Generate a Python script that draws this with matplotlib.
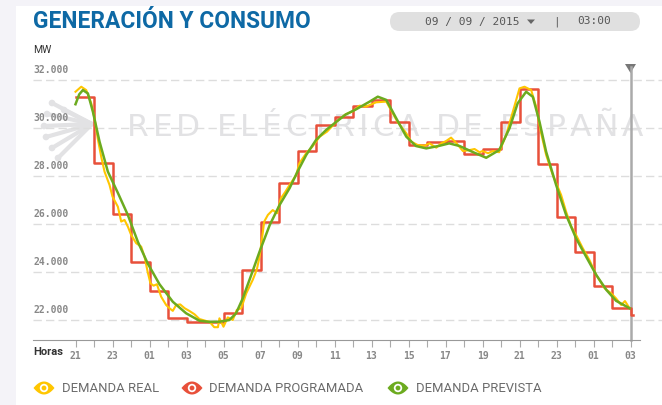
import numpy as np
import matplotlib
matplotlib.use("Agg")
import matplotlib.pyplot as plt
from matplotlib.patches import FancyBboxPatch, Rectangle, Polygon, Circle

# hours since 21:00 (08/09) -> 03:00 (10/09)
hours = list(range(0, 31))
hour_labels = ["%02d" % ((21 + h) % 24) for h in hours]

# demanda programada (hourly steps, MW)
prog_mw = [31300, 28550, 26400, 24400, 23200, 22100, 21900, 21900, 22300, 24100,
           26100, 27700, 29050, 30125, 30450, 30900, 31150, 30250, 29300, 29400,
           29450, 28900, 29125, 30250, 31625, 28500, 26300, 24850, 23400, 22500,
           22200]

# demanda real
real_t = [0.0, 0.31, 0.58, 0.85, 1.03, 1.2, 1.39, 1.57, 1.84, 2.0, 2.29, 2.47, 2.65,
          2.83, 3.01, 3.28, 3.55, 3.73, 3.9, 4.05, 4.22, 4.4, 4.63, 4.9, 5.08, 5.26,
          5.44, 5.66, 5.9, 6.16, 6.43, 6.7, 7.06, 7.24, 7.5, 7.7, 7.78, 8.0, 8.23,
          8.5, 8.72, 8.96, 9.23, 9.58, 9.8, 9.95, 10.1, 10.2, 10.4, 10.66, 10.9, 11.1,
          11.35, 11.57, 11.93, 12.1, 12.47, 12.8, 13.2, 13.6, 14.1, 14.6, 15.0, 15.35,
          15.7, 16.25, 16.8, 17.15, 17.4, 17.88, 18.15, 18.5, 18.86, 19.13, 19.5,
          19.77, 20.04, 20.3, 20.6, 20.94, 21.3, 21.57, 21.84, 22.0, 22.3, 22.56, 22.9,
          23.28, 23.64, 24.0, 24.27, 24.63, 24.9, 25.17, 25.44, 25.8, 26.25, 26.52,
          26.8, 27.06, 27.42, 27.78, 28.15, 28.6, 28.96, 29.22, 29.5, 29.7, 29.95]
real_mw = [31510, 31720, 31580, 31030, 30400, 29570, 28800, 28180, 27625, 27140,
           26720, 26100, 26170, 25890, 25540, 25200, 25060, 24640, 24010, 23530,
           23430, 23490, 22970, 22625, 22490, 22380, 22625, 22650, 22490, 22375,
           22240, 22040, 21960, 21930, 21700, 21700, 22070, 21720, 22110, 22000,
           22420, 22490, 23110, 23670, 24100, 24640, 25500, 26100, 26380, 26580,
           26450, 27070, 27350, 27625, 28040, 28530, 28950, 29220, 29640, 29850,
           30260, 30570, 30700, 30930, 30890, 31070, 31100, 30610, 30260, 29780,
           29430, 29290, 29260, 29360, 29180, 29360, 29460, 29600, 29360, 29040,
           29080, 29125, 28990, 29040, 28950, 29040, 28990, 29710, 30680, 31650,
           31720, 31580, 30890, 29780, 28875, 28040, 27210, 26510, 25890, 25540,
           24990, 24500, 23875, 23320, 23110, 22900, 22625, 22790, 22490]

# demanda prevista
prev_t = [0.0, 0.2, 0.4, 0.67, 0.94, 1.3, 1.75, 2.3, 2.83, 3.37, 3.9, 4.54, 5.26,
          5.98, 6.7, 7.24, 7.78, 8.32, 8.68, 9.04, 9.5, 9.95, 10.5, 11.03, 11.57,
          12.0, 12.47, 13.0, 13.55, 14.1, 14.6, 15.17, 15.9, 16.34, 16.8, 17.34,
          17.88, 18.4, 18.96, 19.68, 20.2, 20.76, 21.5, 22.2, 22.9, 23.46, 23.9,
          24.36, 24.72, 25.08, 25.44, 25.98, 26.52, 27.06, 27.6, 28.15, 28.7, 29.22,
          29.95]
prev_mw = [30990, 31400, 31580, 31440, 30680, 29430, 28180, 27280, 26375, 25260,
           24360, 23490, 22760, 22280, 21970, 21920, 21930, 22000, 22280, 22900,
           23875, 24850, 25960, 26790, 27490, 28180, 28875, 29500, 29920, 30260,
           30560, 30780, 31100, 31305, 31170, 30400, 29640, 29250, 29150, 29260,
           29360, 29250, 28990, 28760, 29080, 29990, 31030, 31510, 31300, 30260,
           29010, 27625, 26375, 25400, 24640, 23875, 23250, 22800, 22490]

y_grid = [22000, 24000, 26000, 28000, 30000, 32000]
y_labels = ["22.000", "24.000", "26.000", "28.000", "30.000", "32.000"]

legend_names = ["DEMANDA REAL", "DEMANDA PROGRAMADA", "DEMANDA PREVISTA"]
c_real, c_prog, c_prev = "#ffc600", "#e8503a", "#6cab1f"

W, H = 662, 405
fig = plt.figure(figsize=(W / 100, H / 100), dpi=100)

# background / decoration axes in pixel units
bg = fig.add_axes([0, 0, 1, 1], zorder=0)
bg.set_xlim(0, W)
bg.set_ylim(H, 0)
bg.axis("off")
bg.add_patch(Rectangle((0, 0), 16, H, color="#f4f3f8", lw=0))
bg.add_patch(Rectangle((0, 0), W, 6, color="#f4f3f8", lw=0))

bg.text(33, 22, "GENERACIÓN Y CONSUMO", family="Roboto", weight="bold",
        fontsize=16.4, color="#0e69a5", va="center", ha="left")

bg.add_patch(FancyBboxPatch((390, 12), 250, 19,
                            boxstyle="round,pad=0,rounding_size=9.5",
                            fc="#e0e0e0", ec="none"))
bg.text(425, 21.5, "09 / 09 / 2015", family="DejaVu Sans Mono", fontsize=8,
        color="#555555", va="center")
bg.add_patch(Polygon([(527, 19.5), (535, 19.5), (531, 24)], color="#666666", lw=0))
bg.text(556, 21.5, "|", family="DejaVu Sans Mono", fontsize=8,
        color="#555555", va="center", ha="center")
bg.text(577, 21.5, "03:00", family="DejaVu Sans Mono", fontsize=8,
        color="#555555", va="center")

bg.text(33, 50, "MW", family="Roboto", fontsize=7.5, color="#333333", va="center")

# watermark, letter-spaced to span x 127..643
wm = "RED ELÉCTRICA DE ESPAÑA"
wm_col = "#e2e2e4"
wm_font = dict(family="DejaVu Sans", fontsize=22.5)
fig.canvas.draw()
rend = fig.canvas.get_renderer()
widths = []
for ch in wm:
    if ch == " ":
        widths.append(None)
        continue
    tt = bg.text(0, 0, ch, **wm_font)
    widths.append(tt.get_window_extent(rend).width)
    tt.remove()
space_w = 9.0
total = sum(w if w is not None else space_w for w in widths)
track = (643 - 127 - total) / (len(wm) - 1)
xc = 127
for ch, w in zip(wm, widths):
    if w is None:
        xc += space_w + track
        continue
    bg.text(xc, 136, ch, color=wm_col, va="baseline", ha="left", **wm_font)
    xc += w + track

ends = [(52, 103), (47, 114), (44, 126), (46, 137), (52, 148), (58, 158), (64, 110)]
for ex, ey in ends:
    bg.plot([ex, 92], [ey, 124], color=wm_col, lw=3, solid_capstyle="round")
    bg.add_patch(Circle((ex, ey), 3.3, color=wm_col, lw=0))

bg.text(33, 352, "Horas", family="Roboto", weight="bold", fontsize=8,
        color="#333333", va="center")

# legend with eye icons
s = np.linspace(-1, 1, 40)
for cx, tx, col, name in zip([44, 192, 398], [62, 209, 416],
                             [c_real, c_prog, c_prev], legend_names):
    cy = 388
    xs = np.concatenate([cx + 10.5 * s, cx - 10.5 * s])
    ys = np.concatenate([cy - 6.5 * (1 - s ** 2), cy + 6.5 * (1 - s ** 2)])
    bg.add_patch(Polygon(np.column_stack([xs, ys]), color=col, lw=0))
    bg.add_patch(Circle((cx, cy), 4.2, color="white", lw=0))
    bg.add_patch(Circle((cx, cy), 2.4, color=col, lw=0))
    bg.text(tx, cy, name, family="Roboto", fontsize=9.4, color="#6b6b6b",
            va="center")

# main chart
px_h = 18.5
t0 = 75.5
ax = fig.add_axes([33 / W, (H - 340) / H, (W - 33) / W, 280 / H], zorder=1)
ax.patch.set_alpha(0)
mw_px = 2000 / 48
ax.set_xlim((33 - t0) / px_h, (W - t0) / px_h)
ax.set_ylim(32000 - (340 - 80) * mw_px, 32000 + 20 * mw_px)

for v, lab in zip(y_grid, y_labels):
    ax.axhline(v, color="#dddddd", lw=1, dashes=(6, 3), zorder=0)
    ax.annotate(lab, xy=(0, v), xycoords=("axes fraction", "data"),
                xytext=(0, 3.5), textcoords="offset points",
                family="DejaVu Sans Mono", fontsize=7, color="#888888",
                weight="bold", va="bottom")

step_t = hours + [30.15]
ax.step(step_t, prog_mw + [prog_mw[-1]], where="post", color=c_prog, lw=1.8,
        zorder=2)
ax.plot(real_t, real_mw, color=c_real, lw=1.5, zorder=3)
ax.plot(prev_t, prev_mw, color=c_prev, lw=1.8, zorder=4)

ax.plot([30, 30], [ax.get_ylim()[0], 32550], color="#aaaaaa", lw=1.8,
        clip_on=False, zorder=1)
xm = t0 + 30 * px_h
bg.add_patch(Polygon([(xm - 5.5, 64), (xm + 5.5, 64), (xm, 73)], color="#777777",
                     lw=0, zorder=5))

for sp in ["top", "left", "right"]:
    ax.spines[sp].set_visible(False)
ax.spines["bottom"].set_color("#999999")
ax.spines["bottom"].set_bounds(ax.get_xlim()[0], (640 - t0) / px_h)
ax.set_yticks([])
ax.set_xticks(hours)
ax.set_xticklabels([lab if h % 2 == 0 else "" for h, lab in zip(hours, hour_labels)],
                   family="DejaVu Sans Mono", fontsize=7, color="#888888",
                   weight="bold")
ax.tick_params(axis="x", length=5, color="#aaaaaa", pad=3)

fig.savefig("out.png", dpi=100)
